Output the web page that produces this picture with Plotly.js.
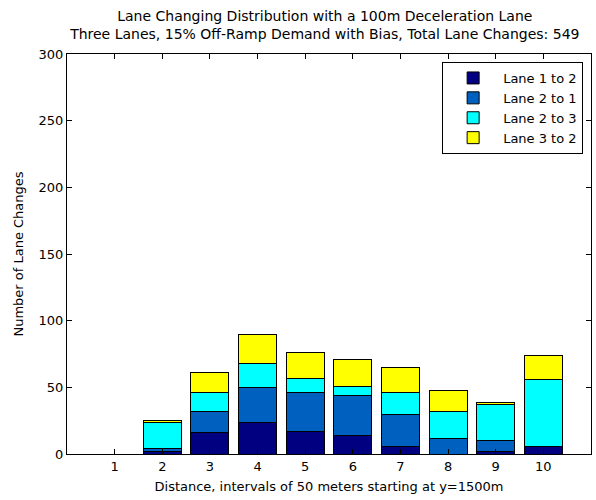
<!DOCTYPE html>
<html>
<head>
<meta charset="utf-8">
<script src="https://cdn.plot.ly/plotly-3.0.1.min.js"></script>
<style>html,body{margin:0;padding:0;background:#fff;}#chart{width:596px;height:500px;}</style>
</head>
<body>
<div id="chart"></div>
<script>
const positions = [1, 2, 3, 4, 5, 6, 7, 8, 9, 10];
const seriesNames = ["Lane 1 to 2", "Lane 2 to 1", "Lane 2 to 3", "Lane 3 to 2"];
const lane1to2 = [0, 2, 16, 24, 17, 14, 6, 0, 2, 6];
const lane2to1 = [0, 2, 16, 26, 29, 30, 24, 12, 8, 0];
const lane2to3 = [0, 20, 14, 18, 11, 7, 16, 20, 27, 50];
const lane3to2 = [0, 1, 15, 22, 19, 20, 19, 16, 2, 18];
const xTicks = [1, 2, 3, 4, 5, 6, 7, 8, 9, 10, 11];
const yTicks = [0, 50, 100, 150, 200, 250, 300];
const colors = ["#000080", "#0060C0", "#00FFFF", "#FFFF00"];

const seriesValues = [lane1to2, lane2to1, lane2to3, lane3to2];
const traces = seriesValues.map((vals, i) => ({
  type: "bar",
  x: positions,
  y: vals,
  name: seriesNames[i],
  marker: {color: colors[i], line: {color: "#000000", width: 1}},
  hoverinfo: "x+y+name"
}));

const fam = "DejaVu Sans, Verdana, sans-serif";
const font = {family: fam, size: 13, color: "#000"};
const layout = {
  width: 596, height: 500,
  margin: {l: 67, r: 5, t: 54, b: 46},
  paper_bgcolor: "#fff", plot_bgcolor: "#fff",
  font: font,
  barmode: "stack",
  bargap: 0.2,
  showlegend: true,
  title: {
    text: "Lane Changing Distribution with a 100m Deceleration Lane<br>Three Lanes, 15% Off-Ramp Demand with Bias, Total Lane Changes: 549",
    font: {family: fam, size: 14, color: "#000"},
    x: 0.545, xanchor: "center", y: 0.958, yanchor: "middle"
  },
  xaxis: {
    range: [0, 11],
    tickvals: xTicks,
    ticktext: xTicks.map(String),
    ticks: "inside", ticklen: 5, tickcolor: "#000",
    showline: true, linecolor: "#000", linewidth: 1, mirror: "ticks",
    showgrid: false, zeroline: false,
    tickfont: {family: fam, size: 13, color: "#000"},
    title: {text: "Distance, intervals of 50 meters starting at y=1500m", font: {family: fam, size: 13, color: "#000"}, standoff: 9}
  },
  yaxis: {
    range: [0, 300],
    tickvals: yTicks,
    ticks: "inside", ticklen: 5, tickcolor: "#000",
    showline: true, linecolor: "#000", linewidth: 1, mirror: "ticks",
    showgrid: false, zeroline: false,
    tickfont: {family: fam, size: 13, color: "#000"},
    title: {text: "Number of Lane Changes", font: {family: fam, size: 13, color: "#000"}, standoff: 12}
  },
  legend: {
    x: 0.985, xanchor: "right", y: 0.98, yanchor: "top",
    bgcolor: "#fff", bordercolor: "#000", borderwidth: 1,
    font: {family: fam, size: 13, color: "#000"},
    traceorder: "normal",
    itemwidth: 50,
    tracegroupgap: 0
  }
};

Plotly.newPlot("chart", traces, layout, {displayModeBar: false, staticPlot: true});
</script>
</body>
</html>
